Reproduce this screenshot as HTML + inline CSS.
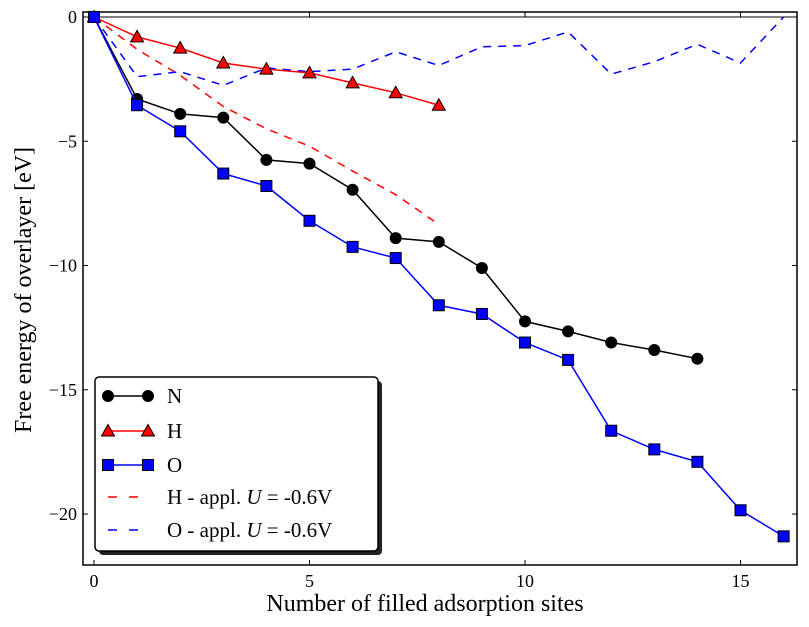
<!DOCTYPE html>
<html><head><meta charset="utf-8"><style>
body{margin:0;background:#fff;}
svg{display:block;font-family:"Liberation Serif",serif;}
</style></head><body>
<svg id="chart" width="809" height="627">
<rect x="0" y="0" width="809" height="627" fill="#fff"/>
<g id="axes"></g>
<g id="series"></g>
<g id="legend">
  <rect x="99" y="381" width="283" height="174" rx="4" fill="#222"/>
  <rect x="95" y="377" width="283" height="174" rx="4" fill="#fff" stroke="#000" stroke-width="1.5"/>
</g>
<text x="425" y="611" font-size="24" text-anchor="middle">Number of filled adsorption sites</text>
<text transform="translate(31,290) rotate(-90)" font-size="24" text-anchor="middle">Free energy of overlayer [eV]</text>
</svg>
<script>
const xTicks=[0,5,10,15];
const yTicks=[0,-5,-10,-15,-20];
const nValues=[0,-3.3,-3.9,-4.05,-5.75,-5.9,-6.95,-8.9,-9.05,-10.1,-12.25,-12.65,-13.1,-13.4,-13.75];
const hValues=[0,-0.8,-1.25,-1.85,-2.1,-2.25,-2.65,-3.05,-3.55];
const oValues=[0,-3.55,-4.6,-6.3,-6.8,-8.2,-9.25,-9.7,-11.6,-11.95,-13.1,-13.8,-16.65,-17.4,-17.9,-19.85,-20.9];
const hApplValues=[0,-1.3,-2.35,-3.6,-4.5,-5.2,-6.2,-7.15,-8.35];
const oApplValues=[0,-2.4,-2.2,-2.75,-2.05,-2.2,-2.1,-1.4,-1.95,-1.2,-1.15,-0.6,-2.3,-1.8,-1.1,-1.85,0];
const legendLabels=["N","H","O","H - appl. ","O - appl. "];

const NS="http://www.w3.org/2000/svg";
const L=83,R=797,T=12,B=565;
const xs=v=>94+v*43.1;
const ys=v=>17-v*24.85;
function mk(tag,attrs,parent){const e=document.createElementNS(NS,tag);for(const k in attrs)e.setAttribute(k,attrs[k]);parent.appendChild(e);return e;}
const ax=document.getElementById('axes');
const frame=mk('rect',{x:L,y:T,width:R-L,height:B-T,fill:'none',stroke:'#000','stroke-width':1.5},ax);


const topLine=mk('line',{x1:L,x2:R,y1:17,y2:17,stroke:'#000','stroke-width':1},ax);


xTicks.forEach(t=>{
  const x=xs(t);
  const tk=mk('line',{x1:x,x2:x,y1:B,y2:B-5,stroke:'#000'},ax);
  
  
  const tk2=mk('line',{x1:x,x2:x,y1:T,y2:T+5,stroke:'#000'},ax);
  
  
  const lb=mk('text',{x:x,y:587,'font-size':18,'text-anchor':'middle'},ax);
  lb.textContent=t;
  
  
});
yTicks.forEach(t=>{
  const y=ys(t);
  const tk=mk('line',{x1:L,x2:L+5,y1:y,y2:y,stroke:'#000'},ax);
  
  
  const tk2=mk('line',{x1:R,x2:R-5,y1:y,y2:y,stroke:'#000'},ax);
  
  
  const lb=mk('text',{x:L-6,y:y+6,'font-size':18,'text-anchor':'end'},ax);
  lb.textContent=(t<0?'\u2212':'')+Math.abs(t);
  
  
});
const sg=document.getElementById('series');
function pts(arr){return arr.map((v,i)=>xs(i)+','+ys(v)).join(' ');}
function line(arr,color,dash,name){
  const p=mk('polyline',{points:pts(arr),fill:'none',stroke:color,'stroke-width':1.5},sg);
  if(dash)p.setAttribute('stroke-dasharray','8,7');
  
  
}
function marker(g,kind,x,y,color){
  let m;
  if(kind==='circle')m=mk('circle',{cx:x,cy:y,r:5.5,fill:color,stroke:'#000'},g);
  else if(kind==='square')m=mk('rect',{x:x-5.5,y:y-5.5,width:11,height:11,fill:color,stroke:'#000'},g);
  else m=mk('polygon',{points:`${x},${y-6.5} ${x+6.5},${y+5} ${x-6.5},${y+5}`,fill:color,stroke:'#000'},g);
  return m;
}
line(hApplValues,'#f00',true,'h-applied-line');
line(oApplValues,'#00f',true,'o-applied-line');
line(nValues,'#000',false,'n-line');
nValues.forEach((v,i)=>{const m=marker(sg,'circle',xs(i),ys(v),'#000');});
line(hValues,'#f00',false,'h-line');
hValues.forEach((v,i)=>{const m=marker(sg,'tri',xs(i),ys(v),'#f00');});
line(oValues,'#00f',false,'o-line');
oValues.forEach((v,i)=>{const m=marker(sg,'square',xs(i),ys(v),'#00f');});

const lg=document.getElementById('legend');
const styles=[['#000','circle',false],['#f00','tri',false],['#00f','square',false],['#f00',null,true],['#00f',null,true]];
const ly=[396,431,465,497,530];
styles.forEach((s,i)=>{
  const y=ly[i];
  const l=mk('line',{x1:108,x2:148,y1:y,y2:y,stroke:s[0],'stroke-width':1.5},lg);
  if(s[2])l.setAttribute('stroke-dasharray','9,12');
  
  
  if(s[1]){
    [108,148].forEach(x=>{const m=marker(lg,s[1],x,y,s[0]);});
  }
  const t=mk('text',{x:167,y:y+7,'font-size':21},lg);
  t.textContent=legendLabels[i];
  if(i>=3){
    const u=mk('tspan',{'font-style':'italic'},t);u.textContent='U';
    const r=mk('tspan',{},t);r.textContent=' = -0.6V';
  }
  
  
});
</script>
</body></html>
